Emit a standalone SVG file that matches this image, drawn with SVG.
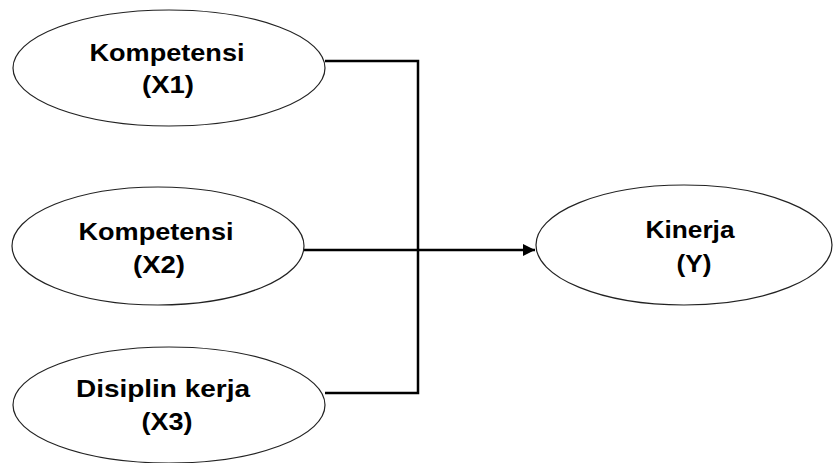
<svg xmlns="http://www.w3.org/2000/svg" width="838" height="463" viewBox="0 0 838 463">
<style>
.node ellipse{fill:#fff;stroke:#222;stroke-width:1.2}
.node text{font-family:"Liberation Sans",Arial,sans-serif;font-weight:bold;font-size:24px;fill:#000;text-anchor:middle}
.conn{fill:none;stroke:#000;stroke-width:2.5}
</style>
<defs>
<marker id="arr" viewBox="0 0 10 10" refX="10" refY="5" markerWidth="5" markerHeight="5" markerUnits="strokeWidth" orient="auto">
<path d="M0,0 L10,5 L0,10 z" fill="#000"/>
</marker>
</defs>
<rect width="838" height="463" fill="#fff"/>
<g id="connectors">
<polyline class="conn" points="325,61 418,61 418,393 325,393"/>
<line class="conn" x1="304" y1="250" x2="535" y2="250" marker-end="url(#arr)"/>
</g>
<g id="x1" class="node">
<ellipse cx="169" cy="68" rx="156" ry="58"/>
<text x="167" y="61" textLength="155" lengthAdjust="spacingAndGlyphs">Kompetensi</text>
<text x="168" y="93" textLength="52" lengthAdjust="spacingAndGlyphs">(X1)</text>
</g>
<g id="x2" class="node">
<ellipse cx="158" cy="246" rx="146" ry="59"/>
<text x="156" y="240" textLength="155" lengthAdjust="spacingAndGlyphs">Kompetensi</text>
<text x="159" y="273" textLength="52" lengthAdjust="spacingAndGlyphs">(X2)</text>
</g>
<g id="x3" class="node">
<ellipse cx="169" cy="405" rx="156" ry="58"/>
<text x="163" y="397" textLength="174" lengthAdjust="spacingAndGlyphs">Disiplin kerja</text>
<text x="167" y="430" textLength="51" lengthAdjust="spacingAndGlyphs">(X3)</text>
</g>
<g id="y" class="node">
<ellipse cx="684" cy="245" rx="148" ry="60"/>
<text x="690" y="238" textLength="89" lengthAdjust="spacingAndGlyphs">Kinerja</text>
<text x="694" y="272" textLength="35" lengthAdjust="spacingAndGlyphs">(Y)</text>
</g>
</svg>
